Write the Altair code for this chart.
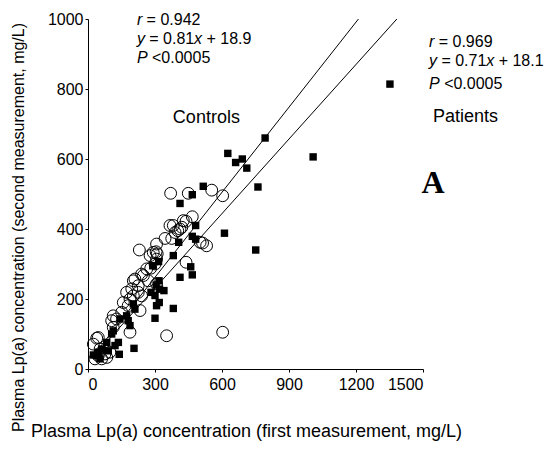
import altair as alt
import pandas as pd

# Patients (filled squares)
pat_x = [1352, 1008, 761, 793, 626, 661, 691, 711, 516, 467, 412, 482, 611, 467, 482, 406,
         751, 382, 316, 290, 460, 467, 412, 318, 340, 282, 300, 320, 307, 382, 300, 203,
         210, 173, 180, 188, 143, 113, 106, 136, 121, 206, 140, 84, 61, 46, 91, 39, 54, 24,
         319, 305]
pat_y = [814, 606, 520, 660, 616, 590, 600, 574, 522, 498, 473, 410, 388, 379, 371, 362,
         340, 324, 307, 295, 292, 269, 262, 252, 224, 219, 210, 228, 181, 173, 145, 186,
         171, 152, 138, 124, 143, 109, 100, 76, 67, 59, 42, 76, 57, 48, 52, 38, 29, 40,
         190, 240]

# Controls (open circles)
ctrl_x = [370, 449, 554, 603, 467, 439, 420, 367, 402, 345, 375, 307, 305, 230, 531, 513,
          310, 439, 281, 240, 203, 225, 173, 307, 427, 382, 390, 412, 292, 278, 307, 300,
          502, 248, 270, 210, 263, 196, 225, 203, 240, 233, 188, 158, 180, 113, 128, 151,
          106, 188, 113, 352, 603, 46, 24, 39, 54, 76, 98, 46, 31, 84, 61]
ctrl_y = [502, 502, 511, 495, 435, 422, 405, 410, 395, 373, 373, 357, 335, 340, 352, 360,
          329, 305, 288, 271, 252, 238, 219, 243, 424, 410, 390, 400, 333, 324, 314, 300,
          362, 267, 252, 257, 286, 229, 219, 209, 209, 167, 200, 190, 181, 152, 143, 162,
          138, 105, 119, 95, 105, 90, 71, 88, 57, 43, 48, 38, 29, 33, 29]

# Regression line end points
ctrl_line_x = [40, 1211]
ctrl_line_y = [51.3, 1000]
pat_line_x = [40, 1383]
pat_line_y = [46.5, 1000]

x_ticks = [0, 300, 600, 900, 1200, 1500]
y_ticks = [0, 200, 400, 600, 800, 1000]

FONT = "Liberation Sans"

xs = alt.Scale(domain=[0, 1500], nice=False, zero=False)
ys = alt.Scale(domain=[0, 1000], nice=False, zero=False)

pat_df = pd.DataFrame({"x": pat_x, "y": pat_y})
ctrl_df = pd.DataFrame({"x": ctrl_x, "y": ctrl_y})

x_axis = alt.Axis(values=x_ticks, format="d", grid=False, tickSize=3, labelPadding=4,
                  labelFontSize=16, labelFont=FONT, labelColor="black",
                  domainColor="black", tickColor="black",
                  title="Plasma Lp(a) concentration (first measurement, mg/L)",
                  titleFont=FONT, titleFontSize=18, titleFontWeight="normal",
                  titleColor="black", titleX=158, titleY=62, titleBaseline="middle")
y_axis = alt.Axis(values=y_ticks, format="d", grid=False, tickSize=3, labelPadding=2,
                  labelFontSize=16, labelFont=FONT, labelColor="black",
                  domainColor="black", tickColor="black",
                  title="Plasma Lp(a) concentration (second measurement, mg/L)",
                  titleFont=FONT, titleFontSize=16, titleFontWeight="normal",
                  titleColor="black", titleX=-70, titleY=208, titleBaseline="middle",
                  titleAlign="center")

circles = alt.Chart(ctrl_df).mark_point(
    shape="circle", filled=False, stroke="black", strokeWidth=1, size=140, opacity=1
).encode(x=alt.X("x:Q", scale=xs, axis=x_axis), y=alt.Y("y:Q", scale=ys, axis=y_axis))

squares = alt.Chart(pat_df).mark_square(color="black", size=55, opacity=1).encode(
    x=alt.X("x:Q", scale=xs), y=alt.Y("y:Q", scale=ys))

line_c = alt.Chart(pd.DataFrame({"x": ctrl_line_x, "y": ctrl_line_y})).mark_line(
    color="black", strokeWidth=1).encode(x=alt.X("x:Q", scale=xs), y=alt.Y("y:Q", scale=ys))
line_p = alt.Chart(pd.DataFrame({"x": pat_line_x, "y": pat_line_y})).mark_line(
    color="black", strokeWidth=1).encode(x=alt.X("x:Q", scale=xs), y=alt.Y("y:Q", scale=ys))

# annotation pieces: (x, y, text, dx, italic)
left_x, right_x = 219, 1527
pieces = [
    (left_x, 997, "r", 0, True), (left_x, 997, "= 0.942", 9.7, False),
    (left_x, 943, "y", 0, True), (left_x, 943, "= 0.81", 12.4, False),
    (left_x, 943, "x", 57.2, True), (left_x, 943, "+ 18.9", 69.6, False),
    (left_x, 889, "P", 0, True), (left_x, 889, "<0.0005", 15.1, False),
    (right_x, 933, "r", 0, True), (right_x, 933, "= 0.969", 9.7, False),
    (right_x, 880, "y", 0, True), (right_x, 880, "= 0.71", 12.4, False),
    (right_x, 880, "x", 57.2, True), (right_x, 880, "+ 18.1", 69.6, False),
    (right_x, 814, "P", 0, True), (right_x, 814, "<0.0005", 15.1, False),
]

layers = [circles, squares, line_c, line_p]
for px, py, txt, dx, ital in pieces:
    layers.append(
        alt.Chart(pd.DataFrame({"x": [px], "y": [py], "t": [txt]})).mark_text(
            align="left", baseline="middle", font=FONT, fontSize=16, dx=dx,
            fontStyle="italic" if ital else "normal", color="black"
        ).encode(x=alt.X("x:Q", scale=xs), y=alt.Y("y:Q", scale=ys), text="t:N")
    )

big_labels = pd.DataFrame({"x": [380, 1545], "y": [717, 720], "t": ["Controls", "Patients"]})
layers.append(alt.Chart(big_labels).mark_text(
    align="left", baseline="middle", font=FONT, fontSize=18, color="black"
).encode(x=alt.X("x:Q", scale=xs), y=alt.Y("y:Q", scale=ys), text="t:N"))

layers.append(alt.Chart(pd.DataFrame({"x": [1545], "y": [531], "t": ["A"]})).mark_text(
    align="center", baseline="middle", font="Liberation Serif", fontSize=32,
    fontWeight="bold", color="black"
).encode(x=alt.X("x:Q", scale=xs), y=alt.Y("y:Q", scale=ys), text="t:N"))

chart = alt.layer(*layers).properties(
    width=335, height=350,
    autosize=alt.AutoSizeParams(type="none"),
    padding={"left": 80, "top": 11, "right": 122, "bottom": 74},
    background="white",
).configure_view(stroke=None)

chart.save("out.html", embed_options={"renderer": "svg", "actions": False})
